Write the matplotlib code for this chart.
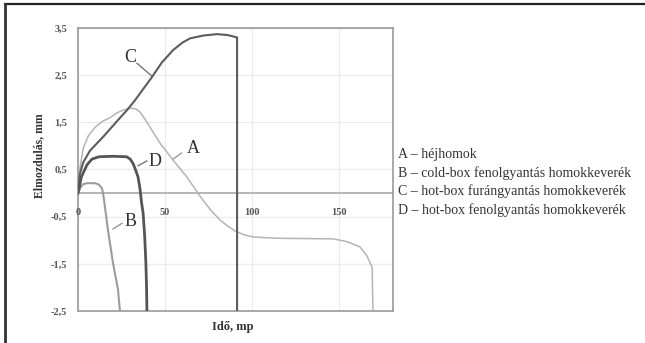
import matplotlib
matplotlib.use("Agg")
import matplotlib.pyplot as plt
from matplotlib.lines import Line2D

# curve data (time in s, displacement in mm)
a_x = [0, 1, 3, 6, 10, 14, 18.4, 22.4, 26, 30, 33, 35.6, 39.7, 43, 47.1, 54.6,
       62.6, 70, 76, 81.6, 86, 90.2, 95, 100.6, 110, 117.8, 146.6, 154.6, 162,
       166, 169, 169.5]
a_y = [0, 0.5, 0.95, 1.22, 1.4, 1.52, 1.6, 1.7, 1.76, 1.8, 1.79, 1.72, 1.5,
       1.3, 1.06, 0.7, 0.34, -0.06, -0.35, -0.57, -0.7, -0.8, -0.88, -0.93,
       -0.95, -0.96, -0.97, -1.03, -1.14, -1.33, -1.57, -2.5]

b_x = [0, 1.5, 3, 5.2, 9.8, 12, 13.8, 14.6, 15.5, 17.2, 20.1, 23, 24.1]
b_y = [0, 0.12, 0.19, 0.21, 0.21, 0.18, 0.1, -0.05, -0.3, -0.78, -1.48, -2.05,
       -2.5]

c_x = [0, 1, 3, 6.9, 14.4, 24, 28.2, 32.8, 42.5, 48, 54.6, 60, 64.4, 72, 79.9,
       86, 91.4, 91.4]
c_y = [0, 0.4, 0.65, 0.9, 1.19, 1.59, 1.76, 1.97, 2.46, 2.76, 3.03, 3.19, 3.28,
       3.34, 3.37, 3.35, 3.3, -2.5]

d_x = [0, 2, 5.2, 8, 12, 20, 28, 30, 31.6, 33.2, 34.5, 35.6, 36.5, 37.4, 38.3,
       39, 39.4, 39.6]
d_y = [0, 0.35, 0.6, 0.72, 0.77, 0.78, 0.77, 0.72, 0.63, 0.48, 0.34, 0.1,
       -0.2, -0.42, -0.9, -1.48, -2, -2.5]

x_ticks = [0, 50, 100, 150]
y_ticks = [-2.5, -1.5, -0.5, 0.5, 1.5, 2.5, 3.5]

legend_lines = [
    "A – héjhomok",
    "B – cold-box fenolgyantás homokkeverék",
    "C – hot-box furángyantás homokkeverék",
    "D – hot-box fenolgyantás homokkeverék",
]

SERIF = "Liberation Serif"


def main():
    fig = plt.figure(figsize=(6.45, 3.43), dpi=100)
    ax = fig.add_axes([78 / 645, 1 - 311 / 343, 315 / 645, 283 / 343])

    ax.set_xlim(0, 181)
    ax.set_ylim(-2.5, 3.5)

    # grid and frame
    ax.set_xticks(x_ticks)
    ax.set_yticks(y_ticks)
    ax.grid(True, color="#ececec", lw=1)
    ax.set_axisbelow(True)
    for sp in ax.spines.values():
        sp.set_color("#9a9a9a")
        sp.set_linewidth(1.2)
    ax.axhline(0, color="#b0b0b0", lw=1.3, zorder=1)

    ax.tick_params(length=0, labelbottom=False, pad=8)
    ax.set_yticklabels([f"{v:g}".replace(".", ",") for v in y_ticks],
                       fontfamily=SERIF, fontweight="bold", fontsize=7.5,
                       color="#555555")
    # x tick labels sit just under the zero line
    for xt in x_ticks:
        ax.annotate(str(xt), (xt, 0), xytext=(0, -14),
                    textcoords="offset points", ha="center", va="center",
                    fontfamily=SERIF, fontweight="bold", fontsize=7.5,
                    color="#555555")

    # curves
    ax.plot(a_x, a_y, color="#b4b4b4", lw=1.1, zorder=3)
    ax.plot(b_x, b_y, color="#9c9c9c", lw=1.5, zorder=3)
    ax.plot(c_x, c_y, color="#5c5c5c", lw=1.5, zorder=4)
    ax.plot(d_x, d_y, color="#555555", lw=2.0, zorder=4)

    # curve labels with leader lines
    lab = dict(fontfamily=SERIF, fontsize=13, color="#333333",
               ha="center", va="center")
    ax.plot([54.6, 59.5], [0.72, 0.85], color="#999999", lw=1)
    ax.text(66, 0.95, "A", **lab)
    ax.plot([20.1, 25.3], [-0.76, -0.64], color="#999999", lw=1)
    ax.text(29.9, -0.61, "B", **lab)
    ax.plot([33.9, 42.5], [2.75, 2.48], color="#777777", lw=1)
    ax.text(29.9, 2.88, "C", **lab)
    ax.plot([34.5, 39.5], [0.58, 0.68], color="#777777", lw=1)
    ax.text(44.3, 0.68, "D", **lab)

    ax.set_ylabel("Elmozdulás, mm", fontfamily=SERIF, fontweight="bold",
                  fontsize=8.5, color="#333333")
    ax.yaxis.set_label_coords(-0.105, 0.55)
    ax.set_xlabel("Idő, mp", fontfamily=SERIF, fontweight="bold",
                  fontsize=9, color="#333333")
    ax.xaxis.set_label_coords(0.49, -0.035)

    # legend as plain text lines
    for i, line in enumerate(legend_lines):
        fig.text(398 / 645, 1 - (155 + 18.3 * i) / 343, line,
                 fontfamily=SERIF, fontsize=10, color="#333333",
                 ha="left", va="center")

    # outer frame (top and left only)
    fig.add_artist(Line2D([5 / 645, 1], [1 - 4 / 343, 1 - 4 / 343],
                          color="#222222", lw=1.6, transform=fig.transFigure))
    fig.add_artist(Line2D([5 / 645, 5 / 645], [0, 1 - 4 / 343],
                          color="#333333", lw=2, transform=fig.transFigure))

    fig.savefig("out.png", dpi=100)
    return 0


if __name__ == "__main__":
    main()
